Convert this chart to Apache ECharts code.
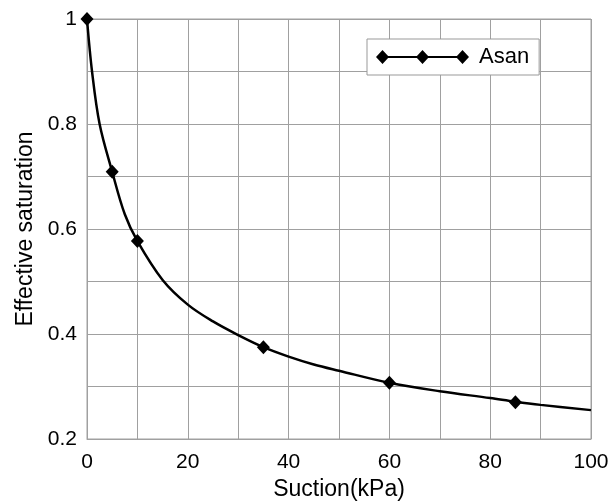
<!DOCTYPE html>
<html>
<head>
<meta charset="utf-8">
<script src="https://cdn.jsdelivr.net/npm/echarts@6/dist/echarts.min.js"></script>
<style>html,body{margin:0;padding:0;background:#fff}#c{width:611px;height:501px}</style>
</head>
<body>
<div id="c"></div>
<script>
// Fitted curve
var curveX = [0, 1, 2.5, 5, 7.5, 10, 15, 20, 25, 30, 35, 40, 45, 50, 60, 70, 80, 85, 90, 100];
var curveY = [1.0, 0.90, 0.80, 0.709, 0.628, 0.577, 0.503, 0.456, 0.424, 0.398, 0.375, 0.357, 0.342, 0.330, 0.307, 0.291, 0.278, 0.271, 0.265, 0.255];
// Measured points (markers)
var pointX = [0, 5, 10, 35, 60, 85];
var pointY = [1.0, 0.709, 0.577, 0.375, 0.307, 0.270];
var seriesName = 'Asan';
var xLabels = [0, 20, 40, 60, 80, 100];
var yLabels = [0.2, 0.4, 0.6, 0.8, 1];

var curve = curveX.map(function (x, i) { return [x, curveY[i]]; });
var pts = pointX.map(function (x, i) { return [x, pointY[i]]; });

var chart = echarts.init(document.getElementById('c'), null, {renderer: 'canvas'});
var font = 'Liberation Sans, Arial, sans-serif';
var grey = '#a0a0a0';
chart.setOption({
  animation: false,
  backgroundColor: '#fff',
  textStyle: {fontFamily: font, color: '#000'},
  grid: {left: 87, right: 20, top: 19, bottom: 62, containLabel: false, outerBoundsMode: 'none',
         show: true, borderColor: grey, borderWidth: 1, backgroundColor: 'transparent'},
  legend: {
    left: 367, top: 39,
    padding: [7, 10, 7, 9],
    backgroundColor: '#fff',
    borderColor: '#999',
    borderWidth: 1,
    borderRadius: 0,
    itemWidth: 93, itemHeight: 14, itemGap: 10,
    textStyle: {fontFamily: font, fontSize: 22, color: '#000', padding: [0, 0, 0, 5]},
    data: [{
      name: seriesName,
      icon: 'path://M0.5 7 L7 0 L13.5 7 L7 14 Z M40.5 7 L47 0 L53.5 7 L47 14 Z M80.5 7 L87 0 L93.5 7 L87 14 Z M7 6 L87 6 L87 8 L7 8 Z',
      itemStyle: {color: '#000', borderWidth: 0, opacity: 1}
    }]
  },
  xAxis: {
    type: 'value', min: 0, max: 100, interval: 10,
    name: 'Suction(kPa)', nameLocation: 'middle', nameGap: 34,
    nameTextStyle: {fontFamily: font, fontSize: 23, color: '#000'},
    axisLine: {show: true, lineStyle: {color: grey, width: 1}},
    axisTick: {show: false},
    axisLabel: {
      fontFamily: font, fontSize: 21, color: '#000', margin: 13,
      formatter: function (v) { return xLabels.indexOf(Math.round(v)) >= 0 && Math.abs(v - Math.round(v)) < 1e-6 ? String(Math.round(v)) : ''; }
    },
    splitLine: {show: true, lineStyle: {color: grey, width: 1}}
  },
  yAxis: {
    type: 'value', min: 0.2, max: 1, interval: 0.1,
    name: 'Effective saturation', nameLocation: 'middle', nameGap: 50,
    nameTextStyle: {fontFamily: font, fontSize: 23, color: '#000'},
    axisLine: {show: true, lineStyle: {color: grey, width: 1}},
    axisTick: {show: false},
    axisLabel: {
      fontFamily: font, fontSize: 21, color: '#000', margin: 10,
      formatter: function (v) {
        var r = Math.round(v * 10) / 10;
        for (var i = 0; i < yLabels.length; i++) { if (Math.abs(yLabels[i] - r) < 1e-6) return String(yLabels[i]); }
        return '';
      }
    },
    splitLine: {show: true, lineStyle: {color: grey, width: 1}}
  },
  series: [
    {
      name: 'fit', type: 'line', data: curve, smooth: 0.35, showSymbol: false, symbol: 'none',
      lineStyle: {color: '#000', width: 2.5}, silent: true, z: 2
    },
    {
      name: seriesName, type: 'scatter', data: pts, symbol: 'diamond', symbolSize: [13, 14],
      itemStyle: {color: '#000', opacity: 1}, z: 3
    }
  ]
});
</script>
</body>
</html>
